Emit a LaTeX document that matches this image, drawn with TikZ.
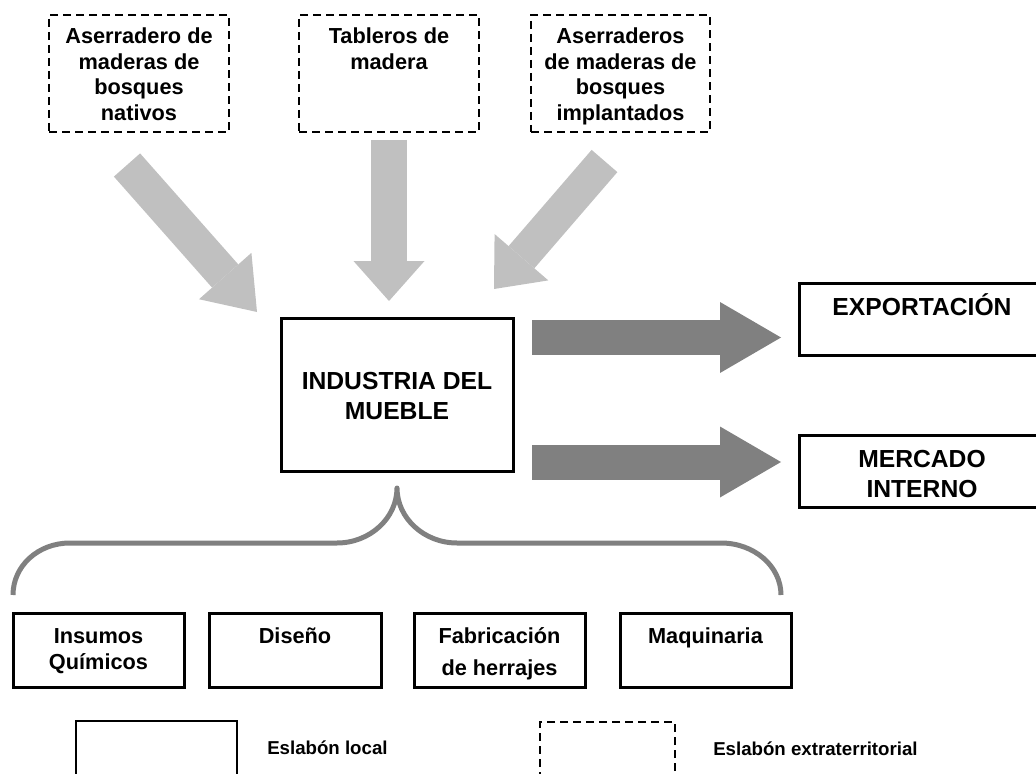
\documentclass[tikz,border=0pt]{standalone}
\usepackage{fontspec}
\setmainfont{Liberation Sans}
\usetikzlibrary{arrows.meta}
\definecolor{lightarr}{HTML}{C0C0C0}
\definecolor{darkarr}{HTML}{808080}
\newcommand{\tbox}[4]{\parbox[c][#2][t]{#1}{\centering\rule{0pt}{#3}#4\par}}
\tikzset{
  extbox/.style={draw, dash pattern=on 6pt off 3.75pt, line width=1.5pt, inner sep=0pt, outer sep=0pt,
    font=\fontsize{16.3pt}{19.5pt}\selectfont\bfseries},
  locbox/.style={draw, line width=2.25pt, inner sep=0pt, outer sep=0pt,
    font=\fontsize{16.3pt}{19.5pt}\selectfont\bfseries},
  capbox/.style={locbox, font=\fontsize{18.5pt}{22.5pt}\selectfont\bfseries},
  legtext/.style={anchor=base west, inner sep=0pt, font=\fontsize{14pt}{16pt}\selectfont\bfseries},
  inarrow/.style={draw=lightarr, line width=#1},
  outarrow/.style={draw=darkarr, line width=26.25pt,
    -{Triangle[width=53.25pt,length=45.75pt,line width=0pt,color=darkarr]}},
  bracepath/.style={draw=darkarr, line width=3.75pt, line join=round}
}
\begin{document}
\begin{tikzpicture}[x=0.75pt,y=-0.75pt]
\useasboundingbox (0,0) rectangle (1036,774);
\clip (0,0) rectangle (1036,774);
% top extraterritorial boxes
\node[extbox] (nat) at (139,73.5) {\tbox{135pt}{87.75pt}{21pt}{Aserradero de\\maderas de\\bosques\\nativos}};
\node[extbox] (tab) at (389,73.5) {\tbox{135pt}{87.75pt}{21pt}{Tableros de\\madera}};
\node[extbox] (imp) at (620.5,73.5) {\tbox{134.25pt}{87.75pt}{21pt}{Aserraderos\\de maderas de\\bosques\\implantados}};
% central box
\node[capbox] (ind) at (397,394.5) {\tbox{174pt}{114.75pt}{53.25pt}{INDUSTRIA DEL\\MUEBLE}};
% market boxes
\node[capbox] (exp) at (922,319) {\tbox{184.5pt}{54pt}{24pt}{EXPORTACIÓN}};
\node[capbox] (mer) at (922,471) {\tbox{184.5pt}{54pt}{24pt}{MERCADO\\INTERNO}};
% bottom boxes
\node[locbox] (ins) at (98.5,650) {\tbox{128.25pt}{55.5pt}{22.5pt}{Insumos\\Químicos}};
\node[locbox] (dis) at (295,650) {\tbox{129pt}{55.5pt}{22.5pt}{Diseño}};
\node[locbox] (fab) at (499.5,650) {\tbox{128.25pt}{55.5pt}{22.5pt}{Fabricación\\[4.5pt]de herrajes}};
\node[locbox] (maq) at (705.5,650) {\tbox{128.25pt}{55.5pt}{22.5pt}{Maquinaria}};
% arrow end points
\coordinate (a1s) at (127,165);   \coordinate (a1e) at (257,312);
\coordinate (a2s) at (389,140);   \coordinate (a2e) at (389,301);
\coordinate (a3s) at (604.5,161); \coordinate (a3e) at (494,289);
\coordinate (e1s) at (532,337.5); \coordinate (e1e) at (781,337.5);
\coordinate (e2s) at (532,462);   \coordinate (e2e) at (781,462);
% incoming arrows
\draw[inarrow=26.25pt, -{Triangle[width=52.5pt,length=36pt,line width=0pt,color=lightarr]}] (a1s) -- (a1e);
\draw[inarrow=27pt, -{Triangle[width=53.25pt,length=30pt,line width=0pt,color=lightarr]}] (a2s) -- (a2e);
\draw[inarrow=25.5pt, -{Triangle[width=53.25pt,length=31.5pt,line width=0pt,color=lightarr]}] (a3s) -- (a3e);
% outgoing arrows
\draw[outarrow] (e1s) -- (e1e);
\draw[outarrow] (e2s) -- (e2e);
% brace
\coordinate (btip) at (397,488);
\draw[bracepath] (13,595) .. controls (13,566) and (38,543) .. (70,543) -- (337,543)
  .. controls (370,543) and (397,518) .. (btip)
  .. controls (397,518) and (424,543) .. (457,543) -- (721,543)
  .. controls (754,543) and (781,566) .. (781,595);
% legend
\node[draw, line width=1pt, inner sep=0pt, minimum width=120.75pt, minimum height=52.5pt] (legl) at (156.5,756) {};
\node[legtext] (legltext) at (267,754) {Eslabón local};
\node[draw, dash pattern=on 6pt off 3.75pt, line width=1.5pt, inner sep=0pt, minimum width=101.25pt, minimum height=52.5pt] (lege) at (607.5,757) {};
\node[legtext] (legetext) at (713,755) {Eslabón extraterritorial};
\end{tikzpicture}
\end{document}
